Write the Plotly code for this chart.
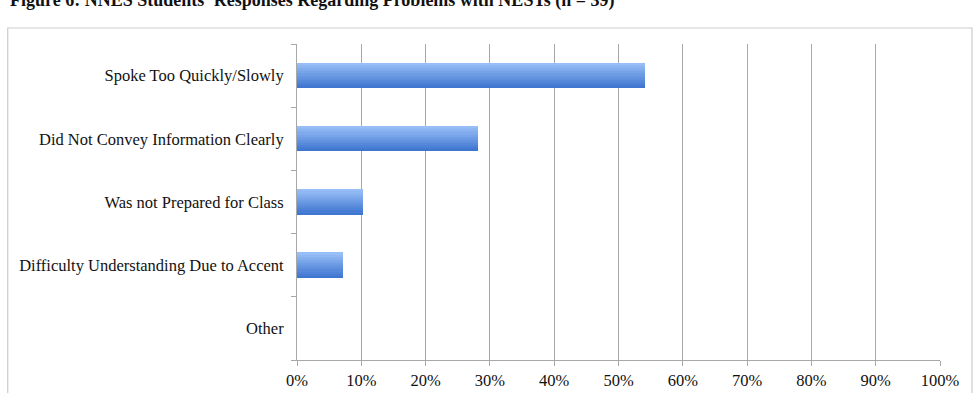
import plotly.graph_objects as go

categories = ["Spoke Too Quickly/Slowly", "Did Not Convey Information Clearly",
              "Was not Prepared for Class", "Difficulty Understanding Due to Accent", "Other"]
values = [54.1, 28.1, 10.2, 7.1, 0.0]
x_ticks = list(range(0, 101, 10))
x_tick_labels = [f"{t}%" for t in x_ticks]
title_text = "Figure 6: NNES Students' Responses Regarding Problems with NESTs (n = 39)"

W, H = 979, 393
ML, MR, MT, MB = 296.5, 39, 44, 33
ph = H - MT - MB
pw = W - ML - MR

fig = go.Figure()

# gradient bars built from layered thin slices
N = 12
bar_w = 0.40
dark = (62, 118, 208)
light = (152, 190, 247)
for i in range(N):
    t = i / (N - 1)
    c = tuple(int(dark[k] + (light[k] - dark[k]) * t) for k in range(3))
    fig.add_trace(go.Bar(
        y=categories, x=values, orientation="h",
        width=bar_w / N + 0.002, offset=-bar_w / 2 + i * bar_w / N,
        marker=dict(color=f"rgb{c}", line=dict(width=0)),
        hoverinfo="skip", showlegend=False,
    ))

fig.update_layout(
    width=W, height=H,
    margin=dict(l=ML, r=MR, t=MT, b=MB, autoexpand=False),
    paper_bgcolor="white", plot_bgcolor="white",
    barmode="overlay", bargap=0,
    font=dict(family="Liberation Serif, Times New Roman, serif", size=16.5, color="#111"),
    showlegend=False,
)
fig.update_xaxes(
    range=[0, 100], tickvals=x_ticks, ticktext=x_tick_labels,
    showgrid=True, gridcolor="#a8a8a8", gridwidth=1,
    showline=True, linecolor="#a8a8a8", linewidth=1,
    ticks="outside", ticklen=5, tickcolor="#a8a8a8",
    automargin=False,
    zeroline=False, fixedrange=True,
)
fig.update_yaxes(
    type="category", categoryorder="array", categoryarray=categories[::-1],
    range=[-0.5, len(categories) - 0.5],
    showgrid=False, showline=True, linecolor="#a8a8a8", linewidth=1,
    ticks="outside", ticklen=5, tickcolor="#a8a8a8", tickson="boundaries",
    ticklabelstandoff=9, automargin=False, fixedrange=True,
)

# outer frame
fig.add_shape(type="rect", xref="paper", yref="paper",
              x0=(7 - ML) / pw, x1=(972 - ML) / pw,
              y0=-(H - MT - ph + 20) / ph, y1=1 + (MT - 28) / ph,
              line=dict(color="#cccccc", width=1.2), fillcolor="rgba(0,0,0,0)", layer="below")

fig.add_annotation(text=f"<b>{title_text}</b>", xref="paper", yref="paper",
                   x=(7 - ML) / pw, y=1 + (MT - 1) / ph, xanchor="left", yanchor="middle",
                   showarrow=False, font=dict(size=18, color="#111"))

fig.write_html("out.html")
